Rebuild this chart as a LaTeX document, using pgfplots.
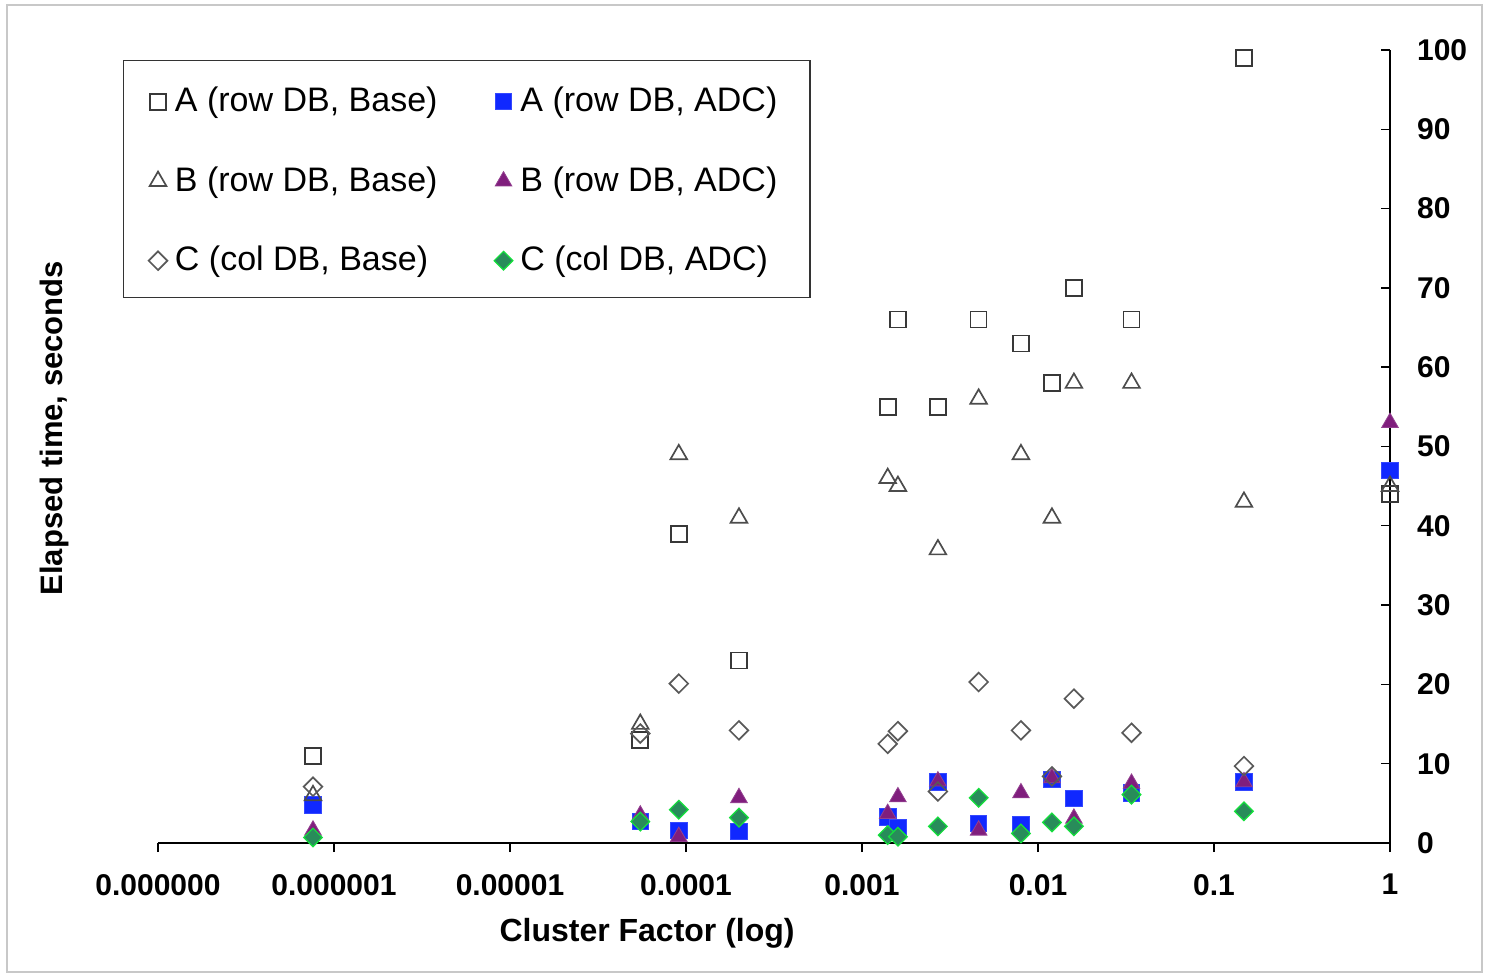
\documentclass[border=0pt]{standalone}
\usepackage{pgfplots}
\pgfplotsset{compat=1.18}
\usepackage{fontspec}
\setmainfont{Liberation Sans}
\definecolor{adcblue}{RGB}{16,40,255}
\definecolor{adcpurple}{RGB}{128,30,125}
\definecolor{adcgreenfill}{RGB}{40,140,90}
\definecolor{adcgreenedge}{RGB}{20,225,60}
\definecolor{framegray}{RGB}{200,200,200}
\begin{document}
\begin{tikzpicture}
\draw[framegray, line width=0.6pt] (3.5pt,1.5pt) rectangle (741pt,485pt);
\begin{axis}[
  at={(79pt,66pt)}, anchor=south west,
  scale only axis, width=616pt, height=396.5pt,
  xmode=log, xmin=1e-7, xmax=1, ymin=0, ymax=100,
  axis x line=bottom, axis y line=right,
  x axis line style={-}, y axis line style={-},
  axis line style={line width=0.7pt, black},
  xtick={1e-7,1e-6,1e-5,1e-4,1e-3,1e-2,1e-1,1},
  xticklabels={0.000000,0.000001,0.00001,0.0001,0.001,0.01,0.1,1},
  xminorticks=false,
  ytick={0,10,...,100},
  tick style={line width=0.7pt, black},
  xtick align=outside, ytick align=inside,
  major tick length=4.5pt,
  tick label style={font=\fontsize{15}{18}\selectfont\bfseries},
  xticklabel style={yshift=-7.5pt},
  yticklabel style={xshift=10pt},
  /pgf/number format/assume math mode=true,
  clip=false,
  legend columns=2,
  legend cell align=left,
  legend image code/.code={\draw[#1] plot coordinates {(4pt,-1pt)};},
  legend style={
    at={(-0.0284,0.9874)}, anchor=north west,
    draw=black!80, line width=0.7pt,
    font=\fontsize{17}{20}\selectfont,
    inner xsep=12.5pt, inner ysep=11.5pt,
    row sep=23.75pt,
    nodes={inner xsep=3.8pt, inner ysep=0pt, text height=14pt, text depth=2pt},
    /tikz/every even column/.append style={column sep=24.5pt},
  },
]
% A (row DB, Base)
\addplot[only marks, mark=square, mark size=4pt, mark options={draw=black!78, line width=0.85pt}]
coordinates {(7.6e-7,11) (5.5e-5,13) (9.1e-5,39) (2.0e-4,23) (1.4e-3,55) (1.6e-3,66) (2.7e-3,55) (4.6e-3,66) (8.0e-3,63) (1.2e-2,58) (1.6e-2,70) (3.4e-2,66) (0.148,99) (1,44)};
\addlegendentry{A (row DB, Base)}
% A (row DB, ADC)
\addplot[only marks, mark=square*, mark size=4.1pt, mark options={draw=adcblue!85!white, fill=adcblue, line width=0.4pt}]
coordinates {(7.6e-7,4.8) (5.5e-5,2.7) (9.1e-5,1.6) (2.0e-4,1.5) (1.4e-3,3.3) (1.6e-3,1.9) (2.7e-3,7.7) (4.6e-3,2.5) (8.0e-3,2.3) (1.2e-2,8.0) (1.6e-2,5.6) (3.4e-2,6.3) (0.148,7.7) (1,47)};
\addlegendentry{A (row DB, ADC)}
% B (row DB, Base)
\addplot[only marks, mark=triangle, mark size=4.8pt, mark options={draw=black!70, line width=0.85pt}]
coordinates {(7.6e-7,6) (5.5e-5,15) (9.1e-5,49) (2.0e-4,41) (1.4e-3,46) (1.6e-3,45) (2.7e-3,37) (4.6e-3,56) (8.0e-3,49) (1.2e-2,41) (1.6e-2,58) (3.4e-2,58) (0.148,43) (1,45)};
\addlegendentry{B (row DB, Base)}
% B (row DB, ADC)
\addplot[only marks, mark=triangle*, mark size=4.8pt, mark options={draw=adcpurple!85!white, fill=adcpurple, line width=0.4pt}]
coordinates {(7.6e-7,1.6) (5.5e-5,3.5) (9.1e-5,0.8) (2.0e-4,5.7) (1.4e-3,3.7) (1.6e-3,5.8) (2.7e-3,7.8) (4.6e-3,1.6) (8.0e-3,6.3) (1.2e-2,8.2) (1.6e-2,3.1) (3.4e-2,7.5) (0.148,7.7) (1,53)};
\addlegendentry{B (row DB, ADC)}
% C (col DB, Base)
\addplot[only marks, mark=square, mark size=3.3pt, mark options={rotate=45, draw=black!65, line width=0.85pt}]
coordinates {(7.6e-7,7.1) (5.5e-5,13.8) (9.1e-5,20.1) (2.0e-4,14.2) (1.4e-3,12.5) (1.6e-3,14.1) (2.7e-3,6.5) (4.6e-3,20.3) (8.0e-3,14.2) (1.2e-2,8.4) (1.6e-2,18.2) (3.4e-2,13.9) (0.148,9.7)};
\addlegendentry{C (col DB, Base)}
% C (col DB, ADC)
\addplot[only marks, mark=square*, mark size=3.3pt, mark options={rotate=45, draw=adcgreenedge, fill=adcgreenfill, line width=0.6pt}]
coordinates {(7.6e-7,0.7) (5.5e-5,2.7) (9.1e-5,4.2) (2.0e-4,3.2) (1.4e-3,1.0) (1.6e-3,0.8) (2.7e-3,2.1) (4.6e-3,5.7) (8.0e-3,1.2) (1.2e-2,2.6) (1.6e-2,2.1) (3.4e-2,6.1) (0.148,4.0)};
\addlegendentry{C (col DB, ADC)}
\node[font=\fontsize{16}{19}\selectfont\bfseries, anchor=center] at ([yshift=-45pt]rel axis cs:0.397,0) {Cluster Factor (log)};
\node[font=\fontsize{15.5}{18}\selectfont\bfseries, rotate=90, anchor=center] at ([xshift=-51.5pt]rel axis cs:0,0.523) {Elapsed time, seconds};
\end{axis}
\pgfresetboundingbox
\path (0pt,0pt) rectangle (743.5pt,487.5pt);
\end{tikzpicture}
\end{document}
